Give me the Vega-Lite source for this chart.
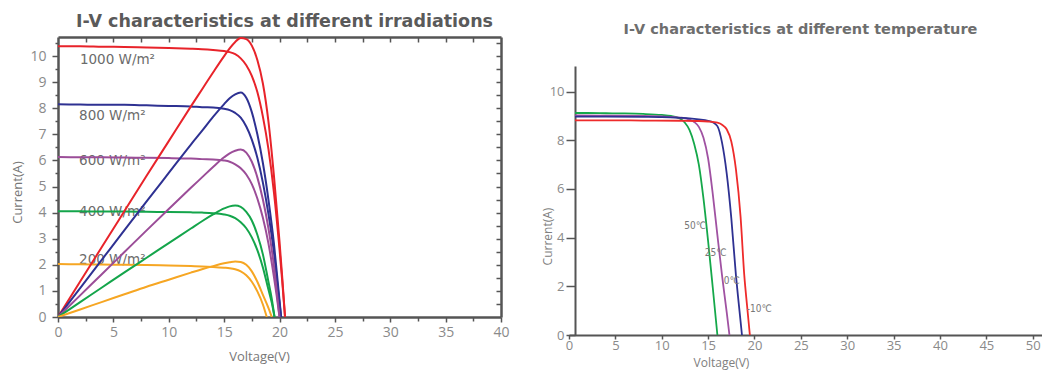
{
  "$schema": "https://vega.github.io/schema/vega-lite/v6.json",
  "padding": {"left": 11, "top": 13, "right": 0, "bottom": 5},
  "background": "white",
  "bounds": "flush",
  "spacing": 68,
  "resolve": {"scale": {"color": "independent"}},
  "config": {
    "view": {"stroke": null},
    "axis": {"grid": false, "labelOverlap": false, "labelFlush": false}
  },
  "datasets": {
    "irrLab": [
      {"V": 1.98, "I": 9.84, "label": "1000 W/m²"},
      {"V": 1.9, "I": 7.7, "label": "800 W/m²"},
      {"V": 1.9, "I": 5.98, "label": "600 W/m²"},
      {"V": 1.9, "I": 4.04, "label": "400 W/m²"},
      {"V": 1.9, "I": 2.19, "label": "200 W/m²"}
    ],
    "irr": [
      {"G": "1000", "curve": "I", "V": 0, "I": 10.38},
      {"G": "1000", "curve": "I", "V": 2, "I": 10.38},
      {"G": "1000", "curve": "I", "V": 4, "I": 10.36},
      {"G": "1000", "curve": "I", "V": 6, "I": 10.35},
      {"G": "1000", "curve": "I", "V": 8, "I": 10.33},
      {"G": "1000", "curve": "I", "V": 10, "I": 10.31},
      {"G": "1000", "curve": "I", "V": 12, "I": 10.28},
      {"G": "1000", "curve": "I", "V": 13, "I": 10.26},
      {"G": "1000", "curve": "I", "V": 14, "I": 10.23},
      {"G": "1000", "curve": "I", "V": 15, "I": 10.19},
      {"G": "1000", "curve": "I", "V": 15.5, "I": 10.15},
      {"G": "1000", "curve": "I", "V": 16, "I": 10.07},
      {"G": "1000", "curve": "I", "V": 16.5, "I": 9.91},
      {"G": "1000", "curve": "I", "V": 17, "I": 9.65},
      {"G": "1000", "curve": "I", "V": 17.5, "I": 9.24},
      {"G": "1000", "curve": "I", "V": 18, "I": 8.62},
      {"G": "1000", "curve": "I", "V": 18.5, "I": 7.68},
      {"G": "1000", "curve": "I", "V": 19, "I": 6.44},
      {"G": "1000", "curve": "I", "V": 19.5, "I": 4.77},
      {"G": "1000", "curve": "I", "V": 20, "I": 2.6},
      {"G": "1000", "curve": "I", "V": 20.25, "I": 1.35},
      {"G": "1000", "curve": "I", "V": 20.5, "I": 0},
      {"G": "1000", "curve": "P", "V": 0, "I": 0},
      {"G": "1000", "curve": "P", "V": 2, "I": 1.36},
      {"G": "1000", "curve": "P", "V": 4, "I": 2.71},
      {"G": "1000", "curve": "P", "V": 6, "I": 4.06},
      {"G": "1000", "curve": "P", "V": 8, "I": 5.41},
      {"G": "1000", "curve": "P", "V": 10, "I": 6.74},
      {"G": "1000", "curve": "P", "V": 12, "I": 8.07},
      {"G": "1000", "curve": "P", "V": 13, "I": 8.72},
      {"G": "1000", "curve": "P", "V": 14, "I": 9.37},
      {"G": "1000", "curve": "P", "V": 15, "I": 10.0},
      {"G": "1000", "curve": "P", "V": 15.5, "I": 10.29},
      {"G": "1000", "curve": "P", "V": 16, "I": 10.54},
      {"G": "1000", "curve": "P", "V": 16.5, "I": 10.69},
      {"G": "1000", "curve": "P", "V": 17, "I": 10.65},
      {"G": "1000", "curve": "P", "V": 17.5, "I": 10.4},
      {"G": "1000", "curve": "P", "V": 18, "I": 9.85},
      {"G": "1000", "curve": "P", "V": 18.5, "I": 8.95},
      {"G": "1000", "curve": "P", "V": 19, "I": 7.5},
      {"G": "1000", "curve": "P", "V": 19.5, "I": 5.4},
      {"G": "1000", "curve": "P", "V": 20, "I": 2.9},
      {"G": "1000", "curve": "P", "V": 20.25, "I": 1.5},
      {"G": "1000", "curve": "P", "V": 20.5, "I": 0},
      {"G": "800", "curve": "I", "V": 0, "I": 8.15},
      {"G": "800", "curve": "I", "V": 2, "I": 8.14},
      {"G": "800", "curve": "I", "V": 4, "I": 8.13},
      {"G": "800", "curve": "I", "V": 6, "I": 8.13},
      {"G": "800", "curve": "I", "V": 8, "I": 8.11},
      {"G": "800", "curve": "I", "V": 10, "I": 8.09},
      {"G": "800", "curve": "I", "V": 12, "I": 8.07},
      {"G": "800", "curve": "I", "V": 13, "I": 8.04},
      {"G": "800", "curve": "I", "V": 14, "I": 8.03},
      {"G": "800", "curve": "I", "V": 15, "I": 7.98},
      {"G": "800", "curve": "I", "V": 15.5, "I": 7.93},
      {"G": "800", "curve": "I", "V": 16, "I": 7.82},
      {"G": "800", "curve": "I", "V": 16.5, "I": 7.64},
      {"G": "800", "curve": "I", "V": 17, "I": 7.3},
      {"G": "800", "curve": "I", "V": 17.5, "I": 6.8},
      {"G": "800", "curve": "I", "V": 18, "I": 6.1},
      {"G": "800", "curve": "I", "V": 18.5, "I": 5.15},
      {"G": "800", "curve": "I", "V": 19, "I": 3.95},
      {"G": "800", "curve": "I", "V": 19.5, "I": 2.45},
      {"G": "800", "curve": "I", "V": 19.85, "I": 1.1},
      {"G": "800", "curve": "I", "V": 20.15, "I": 0},
      {"G": "800", "curve": "P", "V": 0, "I": 0},
      {"G": "800", "curve": "P", "V": 2, "I": 1.11},
      {"G": "800", "curve": "P", "V": 4, "I": 2.22},
      {"G": "800", "curve": "P", "V": 6, "I": 3.33},
      {"G": "800", "curve": "P", "V": 8, "I": 4.43},
      {"G": "800", "curve": "P", "V": 10, "I": 5.52},
      {"G": "800", "curve": "P", "V": 12, "I": 6.61},
      {"G": "800", "curve": "P", "V": 13, "I": 7.13},
      {"G": "800", "curve": "P", "V": 14, "I": 7.67},
      {"G": "800", "curve": "P", "V": 15, "I": 8.16},
      {"G": "800", "curve": "P", "V": 15.5, "I": 8.38},
      {"G": "800", "curve": "P", "V": 16, "I": 8.53},
      {"G": "800", "curve": "P", "V": 16.5, "I": 8.6},
      {"G": "800", "curve": "P", "V": 17, "I": 8.4},
      {"G": "800", "curve": "P", "V": 17.5, "I": 7.85},
      {"G": "800", "curve": "P", "V": 18, "I": 7.0},
      {"G": "800", "curve": "P", "V": 18.5, "I": 5.9},
      {"G": "800", "curve": "P", "V": 19, "I": 4.5},
      {"G": "800", "curve": "P", "V": 19.5, "I": 2.8},
      {"G": "800", "curve": "P", "V": 19.85, "I": 1.3},
      {"G": "800", "curve": "P", "V": 20.15, "I": 0},
      {"G": "600", "curve": "I", "V": 0, "I": 6.13},
      {"G": "600", "curve": "I", "V": 2, "I": 6.12},
      {"G": "600", "curve": "I", "V": 4, "I": 6.12},
      {"G": "600", "curve": "I", "V": 6, "I": 6.11},
      {"G": "600", "curve": "I", "V": 8, "I": 6.1},
      {"G": "600", "curve": "I", "V": 10, "I": 6.09},
      {"G": "600", "curve": "I", "V": 12, "I": 6.07},
      {"G": "600", "curve": "I", "V": 13, "I": 6.05},
      {"G": "600", "curve": "I", "V": 14, "I": 6.04},
      {"G": "600", "curve": "I", "V": 15, "I": 6.0},
      {"G": "600", "curve": "I", "V": 15.5, "I": 5.95},
      {"G": "600", "curve": "I", "V": 16, "I": 5.85},
      {"G": "600", "curve": "I", "V": 16.5, "I": 5.7},
      {"G": "600", "curve": "I", "V": 17, "I": 5.46},
      {"G": "600", "curve": "I", "V": 17.5, "I": 5.09},
      {"G": "600", "curve": "I", "V": 18, "I": 4.54},
      {"G": "600", "curve": "I", "V": 18.5, "I": 3.8},
      {"G": "600", "curve": "I", "V": 19, "I": 2.82},
      {"G": "600", "curve": "I", "V": 19.5, "I": 1.53},
      {"G": "600", "curve": "I", "V": 19.75, "I": 0.8},
      {"G": "600", "curve": "I", "V": 20, "I": 0},
      {"G": "600", "curve": "P", "V": 0, "I": 0},
      {"G": "600", "curve": "P", "V": 2, "I": 0.83},
      {"G": "600", "curve": "P", "V": 4, "I": 1.66},
      {"G": "600", "curve": "P", "V": 6, "I": 2.49},
      {"G": "600", "curve": "P", "V": 8, "I": 3.32},
      {"G": "600", "curve": "P", "V": 10, "I": 4.14},
      {"G": "600", "curve": "P", "V": 12, "I": 4.95},
      {"G": "600", "curve": "P", "V": 13, "I": 5.35},
      {"G": "600", "curve": "P", "V": 14, "I": 5.75},
      {"G": "600", "curve": "P", "V": 15, "I": 6.12},
      {"G": "600", "curve": "P", "V": 15.5, "I": 6.27},
      {"G": "600", "curve": "P", "V": 16, "I": 6.37},
      {"G": "600", "curve": "P", "V": 16.5, "I": 6.42},
      {"G": "600", "curve": "P", "V": 17, "I": 6.3},
      {"G": "600", "curve": "P", "V": 17.5, "I": 5.95},
      {"G": "600", "curve": "P", "V": 18, "I": 5.35},
      {"G": "600", "curve": "P", "V": 18.5, "I": 4.5},
      {"G": "600", "curve": "P", "V": 19, "I": 3.4},
      {"G": "600", "curve": "P", "V": 19.5, "I": 1.95},
      {"G": "600", "curve": "P", "V": 19.75, "I": 1.0},
      {"G": "600", "curve": "P", "V": 20, "I": 0},
      {"G": "400", "curve": "I", "V": 0, "I": 4.05},
      {"G": "400", "curve": "I", "V": 2, "I": 4.05},
      {"G": "400", "curve": "I", "V": 4, "I": 4.04},
      {"G": "400", "curve": "I", "V": 6, "I": 4.04},
      {"G": "400", "curve": "I", "V": 8, "I": 4.03},
      {"G": "400", "curve": "I", "V": 10, "I": 4.02},
      {"G": "400", "curve": "I", "V": 12, "I": 4.01},
      {"G": "400", "curve": "I", "V": 13, "I": 4.0},
      {"G": "400", "curve": "I", "V": 14, "I": 3.98},
      {"G": "400", "curve": "I", "V": 15, "I": 3.93},
      {"G": "400", "curve": "I", "V": 15.5, "I": 3.88},
      {"G": "400", "curve": "I", "V": 16, "I": 3.79},
      {"G": "400", "curve": "I", "V": 16.5, "I": 3.63},
      {"G": "400", "curve": "I", "V": 17, "I": 3.4},
      {"G": "400", "curve": "I", "V": 17.5, "I": 3.05},
      {"G": "400", "curve": "I", "V": 18, "I": 2.56},
      {"G": "400", "curve": "I", "V": 18.5, "I": 1.9},
      {"G": "400", "curve": "I", "V": 19, "I": 1.05},
      {"G": "400", "curve": "I", "V": 19.3, "I": 0.55},
      {"G": "400", "curve": "I", "V": 19.55, "I": 0},
      {"G": "400", "curve": "P", "V": 0, "I": 0},
      {"G": "400", "curve": "P", "V": 2, "I": 0.57},
      {"G": "400", "curve": "P", "V": 4, "I": 1.14},
      {"G": "400", "curve": "P", "V": 6, "I": 1.71},
      {"G": "400", "curve": "P", "V": 8, "I": 2.27},
      {"G": "400", "curve": "P", "V": 10, "I": 2.83},
      {"G": "400", "curve": "P", "V": 12, "I": 3.39},
      {"G": "400", "curve": "P", "V": 13, "I": 3.67},
      {"G": "400", "curve": "P", "V": 14, "I": 3.93},
      {"G": "400", "curve": "P", "V": 15, "I": 4.16},
      {"G": "400", "curve": "P", "V": 15.5, "I": 4.24},
      {"G": "400", "curve": "P", "V": 16, "I": 4.27},
      {"G": "400", "curve": "P", "V": 16.5, "I": 4.22},
      {"G": "400", "curve": "P", "V": 17, "I": 4.03},
      {"G": "400", "curve": "P", "V": 17.5, "I": 3.7},
      {"G": "400", "curve": "P", "V": 18, "I": 3.15},
      {"G": "400", "curve": "P", "V": 18.5, "I": 2.4},
      {"G": "400", "curve": "P", "V": 19, "I": 1.35},
      {"G": "400", "curve": "P", "V": 19.3, "I": 0.7},
      {"G": "400", "curve": "P", "V": 19.55, "I": 0},
      {"G": "200", "curve": "I", "V": 0, "I": 2.03},
      {"G": "200", "curve": "I", "V": 2, "I": 2.02},
      {"G": "200", "curve": "I", "V": 4, "I": 2.01},
      {"G": "200", "curve": "I", "V": 6, "I": 2.0},
      {"G": "200", "curve": "I", "V": 8, "I": 1.99},
      {"G": "200", "curve": "I", "V": 10, "I": 1.97},
      {"G": "200", "curve": "I", "V": 12, "I": 1.95},
      {"G": "200", "curve": "I", "V": 13, "I": 1.94},
      {"G": "200", "curve": "I", "V": 14, "I": 1.92},
      {"G": "200", "curve": "I", "V": 15, "I": 1.89},
      {"G": "200", "curve": "I", "V": 15.5, "I": 1.87},
      {"G": "200", "curve": "I", "V": 16, "I": 1.83},
      {"G": "200", "curve": "I", "V": 16.5, "I": 1.75},
      {"G": "200", "curve": "I", "V": 17, "I": 1.6},
      {"G": "200", "curve": "I", "V": 17.5, "I": 1.35},
      {"G": "200", "curve": "I", "V": 18, "I": 0.98},
      {"G": "200", "curve": "I", "V": 18.5, "I": 0.48},
      {"G": "200", "curve": "I", "V": 18.85, "I": 0},
      {"G": "200", "curve": "P", "V": 0, "I": 0},
      {"G": "200", "curve": "P", "V": 2, "I": 0.29},
      {"G": "200", "curve": "P", "V": 4, "I": 0.58},
      {"G": "200", "curve": "P", "V": 6, "I": 0.87},
      {"G": "200", "curve": "P", "V": 8, "I": 1.16},
      {"G": "200", "curve": "P", "V": 10, "I": 1.43},
      {"G": "200", "curve": "P", "V": 12, "I": 1.7},
      {"G": "200", "curve": "P", "V": 13, "I": 1.83},
      {"G": "200", "curve": "P", "V": 14, "I": 1.95},
      {"G": "200", "curve": "P", "V": 15, "I": 2.06},
      {"G": "200", "curve": "P", "V": 15.5, "I": 2.1},
      {"G": "200", "curve": "P", "V": 16, "I": 2.13},
      {"G": "200", "curve": "P", "V": 16.5, "I": 2.11},
      {"G": "200", "curve": "P", "V": 17, "I": 2.0},
      {"G": "200", "curve": "P", "V": 17.5, "I": 1.75},
      {"G": "200", "curve": "P", "V": 18, "I": 1.35},
      {"G": "200", "curve": "P", "V": 18.5, "I": 0.85},
      {"G": "200", "curve": "P", "V": 19, "I": 0.35},
      {"G": "200", "curve": "P", "V": 19.3, "I": 0}
    ],
    "tempLab": [
      {"V": 13.6, "I": 4.48, "label": "50℃"},
      {"V": 15.8, "I": 3.37, "label": "25℃"},
      {"V": 17.55, "I": 2.22, "label": "0℃"},
      {"V": 20.5, "I": 1.07, "label": "-10℃"}
    ],
    "temp": [
      {"T": "50℃", "V": 0.65, "I": 9.12},
      {"T": "50℃", "V": 2, "I": 9.12},
      {"T": "50℃", "V": 4, "I": 9.11},
      {"T": "50℃", "V": 6, "I": 9.1},
      {"T": "50℃", "V": 8, "I": 9.08},
      {"T": "50℃", "V": 10, "I": 9.04},
      {"T": "50℃", "V": 11, "I": 9.0},
      {"T": "50℃", "V": 11.5, "I": 8.96},
      {"T": "50℃", "V": 12, "I": 8.88},
      {"T": "50℃", "V": 12.5, "I": 8.72},
      {"T": "50℃", "V": 13, "I": 8.42},
      {"T": "50℃", "V": 13.5, "I": 7.85},
      {"T": "50℃", "V": 14, "I": 7.0},
      {"T": "50℃", "V": 14.5, "I": 5.6},
      {"T": "50℃", "V": 15, "I": 3.85},
      {"T": "50℃", "V": 15.5, "I": 1.95},
      {"T": "50℃", "V": 16, "I": 0},
      {"T": "25℃", "V": 0.65, "I": 9.02},
      {"T": "25℃", "V": 4, "I": 9.01},
      {"T": "25℃", "V": 8, "I": 9.0},
      {"T": "25℃", "V": 10, "I": 8.98},
      {"T": "25℃", "V": 12, "I": 8.93},
      {"T": "25℃", "V": 13, "I": 8.85},
      {"T": "25℃", "V": 13.5, "I": 8.75},
      {"T": "25℃", "V": 14, "I": 8.55},
      {"T": "25℃", "V": 14.5, "I": 8.1},
      {"T": "25℃", "V": 15, "I": 7.25},
      {"T": "25℃", "V": 15.5, "I": 5.8},
      {"T": "25℃", "V": 16, "I": 4.1},
      {"T": "25℃", "V": 16.5, "I": 2.45},
      {"T": "25℃", "V": 17, "I": 0.95},
      {"T": "25℃", "V": 17.3, "I": 0},
      {"T": "0℃", "V": 0.65, "I": 8.97},
      {"T": "0℃", "V": 4, "I": 8.97},
      {"T": "0℃", "V": 8, "I": 8.96},
      {"T": "0℃", "V": 10, "I": 8.95},
      {"T": "0℃", "V": 12, "I": 8.92},
      {"T": "0℃", "V": 13, "I": 8.9},
      {"T": "0℃", "V": 14, "I": 8.86},
      {"T": "0℃", "V": 15, "I": 8.8},
      {"T": "0℃", "V": 15.5, "I": 8.74},
      {"T": "0℃", "V": 16, "I": 8.58},
      {"T": "0℃", "V": 16.5, "I": 7.9},
      {"T": "0℃", "V": 17, "I": 6.65},
      {"T": "0℃", "V": 17.5, "I": 4.8},
      {"T": "0℃", "V": 18, "I": 2.45},
      {"T": "0℃", "V": 18.3, "I": 1.3},
      {"T": "0℃", "V": 18.65, "I": 0},
      {"T": "-10℃", "V": 0.65, "I": 8.82},
      {"T": "-10℃", "V": 4, "I": 8.82},
      {"T": "-10℃", "V": 8, "I": 8.81},
      {"T": "-10℃", "V": 12, "I": 8.8},
      {"T": "-10℃", "V": 14, "I": 8.79},
      {"T": "-10℃", "V": 15, "I": 8.77},
      {"T": "-10℃", "V": 16, "I": 8.72},
      {"T": "-10℃", "V": 16.5, "I": 8.64},
      {"T": "-10℃", "V": 17, "I": 8.45},
      {"T": "-10℃", "V": 17.5, "I": 7.95},
      {"T": "-10℃", "V": 18, "I": 6.8},
      {"T": "-10℃", "V": 18.5, "I": 4.85},
      {"T": "-10℃", "V": 18.9, "I": 2.45},
      {"T": "-10℃", "V": 19.2, "I": 1.2},
      {"T": "-10℃", "V": 19.5, "I": 0}
    ]
  },
  "hconcat": [
    {
      "width": 443,
      "height": 280,
      "title": {"text": "I-V characteristics at different irradiations", "font": "DejaVu Sans", "fontSize": 17.5, "fontWeight": "bold", "color": "#5a5a5a", "baseline": "alphabetic", "offset": -8.5, "anchor": "middle", "dx": 5},
      "layer": [
        {
          "data": {"name": "irrLab"},
          "mark": {"type": "text", "align": "left", "baseline": "middle", "font": "DejaVu Sans", "fontSize": 13.5, "color": "#6b6b6b"},
          "encoding": {
            "x": {"field": "V", "type": "quantitative", "axis": null, "scale": {"domain": [0, 40], "nice": false, "zero": false}},
            "y": {"field": "I", "type": "quantitative", "axis": null, "scale": {"domain": [0, 10.73], "nice": false, "zero": false}},
            "text": {"field": "label", "type": "nominal"}
          }
        },
        {
          "data": {"name": "irr"},
          "transform": [{"filter": {"field": "curve", "equal": "I"}}],
          "mark": {"type": "line", "interpolate": "monotone", "strokeWidth": 2, "clip": true},
          "encoding": {
            "x": {"field": "V", "type": "quantitative", "scale": {"domain": [0, 40], "nice": false, "zero": false},
              "axis": {"orient": "bottom", "values": [0, 2.5, 5, 7.5, 10, 12.5, 15, 17.5, 20, 22.5, 25, 27.5, 30, 32.5, 35, 37.5, 40],
                "labelExpr": "datum.value % 5 === 0 ? format(datum.value, 'd') : ''",
                "tickSize": {"condition": {"test": "datum.value % 5 === 0", "value": 5}, "value": 4},
                "tickColor": "#555555", "tickWidth": 1.5, "domainColor": "#555555", "domainWidth": 2.5,
                "labelFont": "Open Sans", "labelFontSize": 14, "labelColor": "#8a8a8a", "labelPadding": 3,
                "title": "Voltage(V)", "titleFont": "Open Sans", "titleFontSize": 13, "titleFontWeight": "normal", "titleColor": "#777777",
                "titleX": 201, "titleY": 39, "titleBaseline": "middle", "titleAnchor": "middle"}},
            "y": {"field": "I", "type": "quantitative", "scale": {"domain": [0, 10.73], "nice": false, "zero": false},
              "axis": {"orient": "left", "values": [0, 0.5, 1, 1.5, 2, 2.5, 3, 3.5, 4, 4.5, 5, 5.5, 6, 6.5, 7, 7.5, 8, 8.5, 9, 9.5, 10, 10.5],
                "labelExpr": "datum.value % 1 === 0 ? format(datum.value, 'd') : ''",
                "tickSize": {"condition": {"test": "datum.value % 1 === 0", "value": 6}, "value": 3},
                "tickColor": "#555555", "tickWidth": 1.5, "domainColor": "#555555", "domainWidth": 2.5,
                "labelFont": "Open Sans", "labelFontSize": 14, "labelColor": "#8a8a8a", "labelPadding": 6,
                "title": "Current(A)", "titleFont": "Open Sans", "titleFontSize": 13, "titleFontWeight": "normal", "titleColor": "#777777",
                "titleX": -41, "titleY": 155, "titleBaseline": "middle", "titleAnchor": "middle"}},
            "color": {"field": "G", "type": "nominal", "legend": null,
              "scale": {"domain": ["1000", "800", "600", "400", "200"], "range": ["#e8232a", "#2e3192", "#9b4d98", "#14a54b", "#f6a623"]}}
          }
        },
        {
          "data": {"name": "irr"},
          "transform": [{"filter": {"field": "curve", "equal": "P"}}],
          "mark": {"type": "line", "interpolate": "monotone", "strokeWidth": 2, "clip": true},
          "encoding": {
            "x": {"field": "V", "type": "quantitative", "scale": {"domain": [0, 40], "nice": false, "zero": false},
              "axis": {"orient": "top", "values": [2.5, 5, 7.5, 10, 12.5, 15, 17.5, 20, 22.5, 25, 27.5, 30, 32.5, 35, 37.5],
                "labels": false, "tickSize": -5, "tickColor": "#555555", "tickWidth": 1.5, "domainColor": "#555555", "domainWidth": 2.5, "title": null}},
            "y": {"field": "I", "type": "quantitative", "scale": {"domain": [0, 10.73], "nice": false, "zero": false},
              "axis": {"orient": "right", "values": [0.5, 1, 1.5, 2, 2.5, 3, 3.5, 4, 4.5, 5, 5.5, 6, 6.5, 7, 7.5, 8, 8.5, 9, 9.5, 10, 10.5],
                "labels": false, "tickSize": -5, "tickColor": "#555555", "tickWidth": 1.5, "domainColor": "#555555", "domainWidth": 2.5, "title": null}},
            "color": {"field": "G", "type": "nominal", "legend": null,
              "scale": {"domain": ["1000", "800", "600", "400", "200"], "range": ["#e8232a", "#2e3192", "#9b4d98", "#14a54b", "#f6a623"]}}
          }
        }
      ],
      "resolve": {"axis": {"x": "independent", "y": "independent"}}
    },
    {
      "width": 473,
      "height": 298,
      "title": {"text": "I-V characteristics at different temperature", "font": "DejaVu Sans", "fontSize": 14.5, "fontWeight": "bold", "color": "#6e6e6e", "baseline": "alphabetic", "offset": -11.8, "anchor": "middle", "dx": -5},
      "layer": [
        {
          "data": {"name": "temp"},
          "mark": {"type": "line", "interpolate": "monotone", "strokeWidth": 1.8},
          "encoding": {
            "x": {"field": "V", "type": "quantitative", "scale": {"domain": [0, 51], "nice": false, "zero": false},
              "axis": {"orient": "bottom", "values": [0, 2.5, 5, 7.5, 10, 12.5, 15, 17.5, 20, 22.5, 25, 27.5, 30, 32.5, 35, 37.5, 40, 42.5, 45, 47.5, 50],
                "labelExpr": "datum.value % 5 === 0 ? format(datum.value, 'd') : ''",
                "tickSize": 4, "tickColor": "#555555", "tickWidth": 1.5, "domainColor": "#555555", "domainWidth": 2,
                "labelFont": "Open Sans", "labelFontSize": 13, "labelColor": "#8a8a8a", "labelPadding": 0,
                "title": "Voltage(V)", "titleFont": "Open Sans", "titleFontSize": 12, "titleFontWeight": "normal", "titleColor": "#808080",
                "titleX": 152, "titleY": 27, "titleBaseline": "middle", "titleAnchor": "middle"}},
            "y": {"field": "I", "type": "quantitative", "scale": {"domain": [0, 11.05], "range": [298, 29], "nice": false, "zero": false},
              "axis": {"orient": "left", "offset": -6, "values": [0, 1, 2, 3, 4, 5, 6, 7, 8, 9, 10, 11],
                "labelExpr": "datum.value % 2 === 0 ? format(datum.value, 'd') : ''",
                "tickSize": {"condition": {"test": "datum.value % 2 === 0", "value": 9}, "value": 5},
                "tickColor": "#555555", "tickWidth": 1.5, "domainColor": "#555555", "domainWidth": 2,
                "labelFont": "Open Sans", "labelFontSize": 13, "labelColor": "#8a8a8a", "labelPadding": 2,
                "title": "Current(A)", "titleFont": "Open Sans", "titleFontSize": 12, "titleFontWeight": "normal", "titleColor": "#808080",
                "titleX": -28, "titleY": 199, "titleBaseline": "middle", "titleAnchor": "middle"}},
            "color": {"field": "T", "type": "nominal", "legend": null,
              "scale": {"domain": ["50℃", "25℃", "0℃", "-10℃"], "range": ["#15a84a", "#a052a2", "#2e3192", "#ee2b2b"]}}
          }
        },
        {
          "data": {"name": "tempLab"},
          "mark": {"type": "text", "align": "center", "baseline": "middle", "font": "Liberation Sans Narrow, DejaVu Sans Condensed, sans-serif", "fontSize": 10, "color": "#777777"},
          "encoding": {
            "x": {"field": "V", "type": "quantitative"},
            "y": {"field": "I", "type": "quantitative"},
            "text": {"field": "label", "type": "nominal"}
          }
        }
      ]
    }
  ]
}
